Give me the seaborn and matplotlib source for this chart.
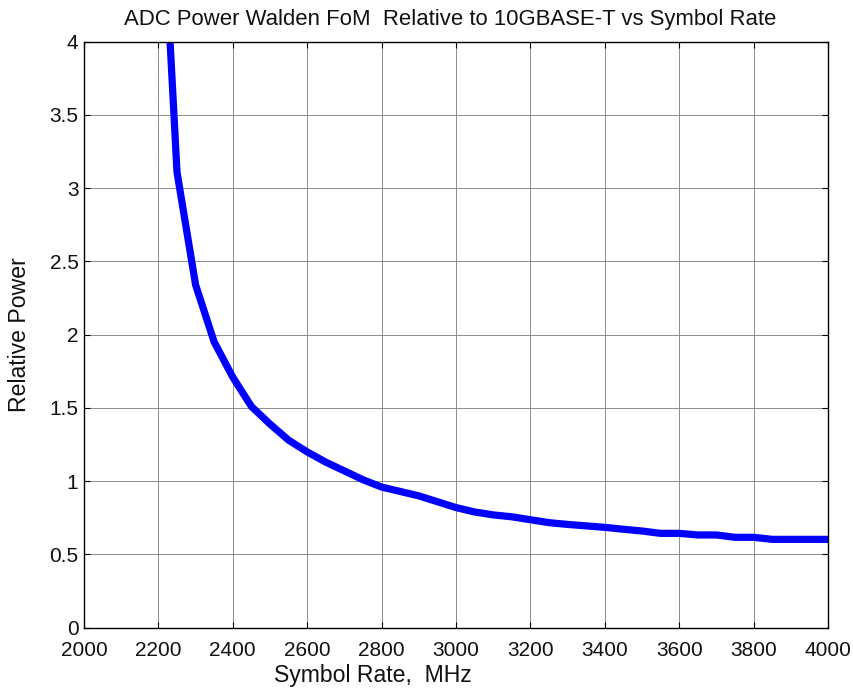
import matplotlib
matplotlib.use("Agg")
import matplotlib.pyplot as plt
import seaborn as sns
import pandas as pd
from matplotlib.ticker import FormatStrFormatter

symbol_rate_mhz = [2200, 2250, 2300, 2350, 2400, 2450, 2500, 2550, 2600, 2650,
                   2700, 2750, 2800, 2850, 2900, 2950, 3000, 3050, 3100, 3150,
                   3200, 3250, 3300, 3350, 3400, 3450, 3500, 3550, 3600, 3650,
                   3700, 3750, 3800, 3850, 3900, 3950, 4000]
relative_power = [5.5, 3.11, 2.34, 1.95, 1.71, 1.51, 1.39, 1.28, 1.20, 1.13,
                  1.07, 1.01, 0.96, 0.93, 0.90, 0.86, 0.82, 0.79, 0.77, 0.757,
                  0.737, 0.717, 0.705, 0.695, 0.685, 0.672, 0.66, 0.644, 0.644, 0.633,
                  0.633, 0.617, 0.617, 0.603, 0.603, 0.603, 0.603]
x_ticks = [2000, 2200, 2400, 2600, 2800, 3000, 3200, 3400, 3600, 3800, 4000]
y_ticks = [0, 0.5, 1, 1.5, 2, 2.5, 3, 3.5, 4]

title_text = "ADC Power Walden FoM  Relative to 10GBASE-T vs Symbol Rate"
xlabel_text = "Symbol Rate,  MHz"
ylabel_text = "Relative Power"

sns.set_theme(style="white")
plt.rcParams['font.family'] = ['Liberation Sans', 'DejaVu Sans']

df = pd.DataFrame({"rate": symbol_rate_mhz, "power": relative_power})

fig = plt.figure(figsize=(8.54, 6.89), dpi=100)
ax = fig.add_axes([84/854, 1-627.7/689, (828-84)/854, (627.7-41.7)/689])

sns.lineplot(data=df, x="rate", y="power", ax=ax, color="#0000ff", linewidth=5.2)

ax.set_xlim(2000, 4000)
ax.set_ylim(0, 4)
ax.set_xticks(x_ticks)
ax.set_yticks(y_ticks)
ax.yaxis.set_major_formatter(FormatStrFormatter('%g'))

ax.grid(True, color="#8c8c8c", linewidth=0.7, linestyle="-")
ax.set_axisbelow(True)

for s in ax.spines.values():
    s.set_visible(True)
    s.set_color("black")
    s.set_linewidth(1.0)

ax.tick_params(axis="both", which="both", direction="in", length=4, width=0.8,
               color="black", top=True, right=True, bottom=True, left=True,
               labelsize=15, labelcolor="#111111")
ax.tick_params(axis="x", pad=9.5)
ax.tick_params(axis="y", pad=4)

ax.set_title(title_text, fontsize=15.9, color="#111111", pad=12, x=0.4926)
ax.set_xlabel(xlabel_text, fontsize=16.6, color="#111111")
ax.set_ylabel(ylabel_text, fontsize=16.6, color="#111111")
ax.xaxis.set_label_coords(0.388, -0.062)
ax.yaxis.set_label_coords(-0.071, 0.5)

fig.savefig("out.png", dpi=100)
